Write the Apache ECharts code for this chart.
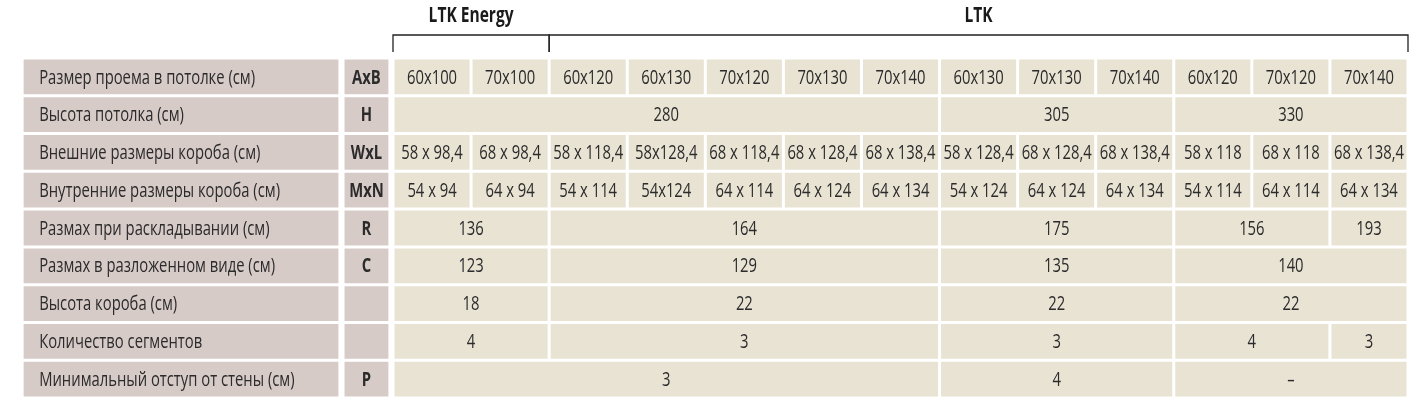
<!DOCTYPE html>
<html>
<head>
<meta charset="utf-8">
<script src="https://cdn.jsdelivr.net/npm/echarts@6/dist/echarts.min.js"></script>
<style>html,body{margin:0;padding:0;background:#fff}#chart{width:1422px;height:406px}</style>
</head>
<body>
<div id="chart"></div>
<script>
var FONT = '"Open Sans","Roboto",sans-serif';
var SQUEEZE = 0.74;

var groups = [['LTK Energy', 0, 2], ['LTK', 2, 13]];

var rowLabels = [
	'Размер проема в потолке (см)',
	'Высота потолка (см)',
	'Внешние размеры короба (см)',
	'Внутренние размеры короба (см)',
	'Размах при раскладывании (см)',
	'Размах в разложенном виде (см)',
	'Высота короба (см)',
	'Количество сегментов',
	'Минимальный отступ от стены (см)'
];
var rowSymbols = ['AxB', 'H', 'WxL', 'MxN', 'R', 'C', '', '', 'P'];

// each row: [text, span]
var row1 = [['60x100',1],['70x100',1],['60x120',1],['60x130',1],['70x120',1],['70x130',1],['70x140',1],['60x130',1],['70x130',1],['70x140',1],['60x120',1],['70x120',1],['70x140',1]];
var row2 = [['280',7],['305',3],['330',3]];
var row3 = [['58 x 98,4',1],['68 x 98,4',1],['58 x 118,4',1],['58x128,4',1],['68 x 118,4',1],['68 x 128,4',1],['68 x 138,4',1],['58 x 128,4',1],['68 x 128,4',1],['68 x 138,4',1],['58 x 118',1],['68 x 118',1],['68 x 138,4',1]];
var row4 = [['54 x 94',1],['64 x 94',1],['54 x 114',1],['54x124',1],['64 x 114',1],['64 x 124',1],['64 x 134',1],['54 x 124',1],['64 x 124',1],['64 x 134',1],['54 x 114',1],['64 x 114',1],['64 x 134',1]];
var row5 = [['136',2],['164',5],['175',3],['156',2],['193',1]];
var row6 = [['123',2],['129',5],['135',3],['140',3]];
var row7 = [['18',2],['22',5],['22',3],['22',3]];
var row8 = [['4',2],['3',5],['3',3],['4',2],['3',1]];
var row9 = [['3',7],['4',3],['–',3]];
var rows = [row1, row2, row3, row4, row5, row6, row7, row8, row9];

// x in column units (data columns 0..13); label and symbol columns sit left of 0
var LABEL_X = [-4.75, -0.68];
var SYM_X = [-0.64, -0.04];

var cells = [];
for (var r = 0; r < rows.length; r++) {
	cells.push([LABEL_X[0], LABEL_X[1] - LABEL_X[0], r, rowLabels[r], 'label']);
	cells.push([SYM_X[0], SYM_X[1] - SYM_X[0], r, rowSymbols[r], 'sym']);
	var x = 0;
	for (var i = 0; i < rows[r].length; i++) {
		cells.push([x, rows[r][i][1], r, rows[r][i][0], 'data']);
		x += rows[r][i][1];
	}
}

function squeezedText(x, y, text, font, align, fill) {
	return {
		type: 'text',
		x: x, y: y, scaleX: SQUEEZE,
		style: { x: 0, y: 0, text: text, fill: fill, font: font, align: align, verticalAlign: 'middle' }
	};
}

var chart = echarts.init(document.getElementById('chart'));
var option = {
	animation: false,
	grid: { left: 393, width: 1015, top: 58, height: 340 },
	xAxis: { type: 'value', min: 0, max: 13, show: false },
	yAxis: { type: 'value', min: 0, max: 9, inverse: true, show: false },
	series: [{
		type: 'custom',
		clip: false,
		data: cells,
		renderItem: function(params, api) {
			var x0 = api.value(0), span = api.value(1), r = api.value(2);
			var kind = cells[params.dataIndex][4];
			var text = cells[params.dataIndex][3];
			var p0 = api.coord([x0, r]);
			var p1 = api.coord([x0 + span, r + 1]);
			var fill = kind === 'data' ? '#e9e3d4' : '#d7cbc8';
			var tx = kind === 'label' ? p0[0] + 17 : (p0[0] + p1[0]) / 2;
			return {
				type: 'group',
				children: [{
					type: 'rect',
					shape: { x: p0[0] + 1.5, y: p0[1] + 1.5, width: p1[0] - p0[0] - 3, height: p1[1] - p0[1] - 3 },
					style: { fill: fill }
				}, squeezedText(tx, (p0[1] + p1[1]) / 2 + 1, text,
					(kind === 'sym' ? 'bold ' : '') + '20px ' + FONT,
					kind === 'label' ? 'left' : 'center', '#2b2b2b')]
			};
		}
	}, {
		type: 'custom',
		clip: false,
		data: groups.map(function(g) { return [g[1], g[2]]; }),
		renderItem: function(params, api) {
			var a = api.coord([api.value(0), 0]);
			var b = api.coord([api.value(1), 0]);
			var yl = 35, yb = 52;
			return {
				type: 'group',
				children: [{
					type: 'polyline',
					shape: { points: [[a[0], yb], [a[0], yl], [b[0], yl], [b[0], yb]] },
					style: { stroke: '#222', lineWidth: 1.3, fill: null }
				}, squeezedText((a[0] + b[0]) / 2, 16, groups[params.dataIndex][0],
					'bold 21px ' + FONT, 'center', '#1a1a1a')]
			};
		}
	}]
};
chart.setOption(option);
</script>
</body>
</html>
